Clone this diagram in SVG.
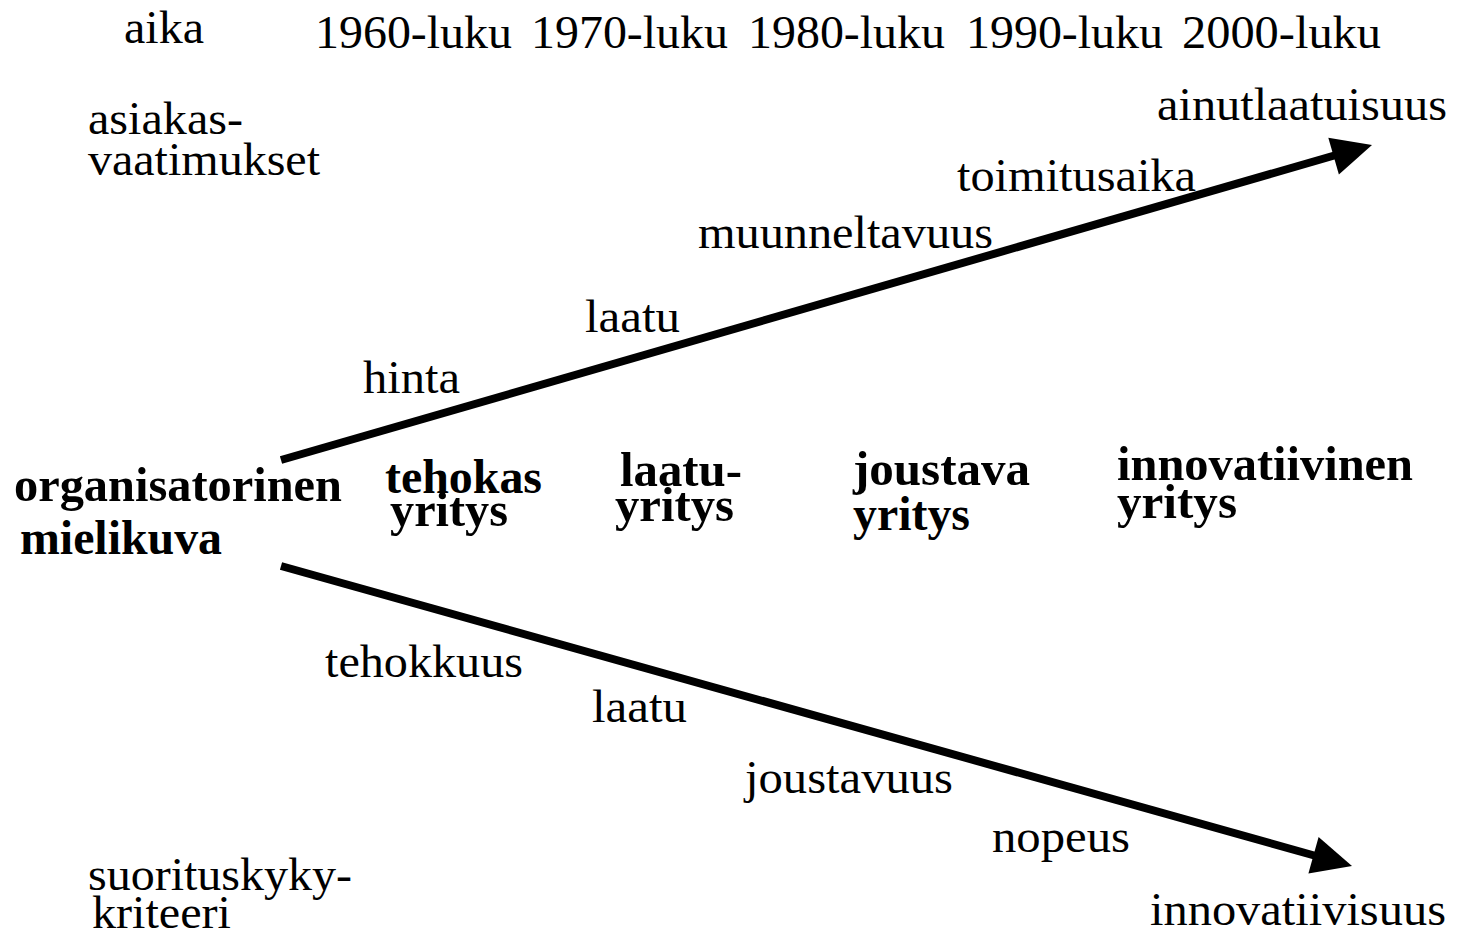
<svg xmlns="http://www.w3.org/2000/svg" width="1465" height="934" viewBox="0 0 1465 934">
<style>
text{font-family:"Liberation Serif","Times New Roman",serif;font-size:46px;fill:#000}
.b{font-weight:bold;font-size:48px}
.ln{stroke:#000;stroke-width:8;fill:none}
.hd{fill:#000}
</style>
<rect width="1465" height="934" fill="#fff"/>
<g id="labels">
<text x="124" y="43" textLength="80" lengthAdjust="spacingAndGlyphs">aika</text>
<text x="315" y="48" textLength="197" lengthAdjust="spacingAndGlyphs">1960-luku</text>
<text x="531" y="48" textLength="197" lengthAdjust="spacingAndGlyphs">1970-luku</text>
<text x="748" y="48" textLength="197" lengthAdjust="spacingAndGlyphs">1980-luku</text>
<text x="966" y="48" textLength="197" lengthAdjust="spacingAndGlyphs">1990-luku</text>
<text x="1182" y="48" textLength="199" lengthAdjust="spacingAndGlyphs">2000-luku</text>
<text x="88" y="134" textLength="155" lengthAdjust="spacingAndGlyphs">asiakas-</text>
<text x="88" y="175" textLength="232" lengthAdjust="spacingAndGlyphs">vaatimukset</text>
<text x="88" y="890" textLength="264" lengthAdjust="spacingAndGlyphs">suorituskyky-</text>
<text x="92" y="928" textLength="139" lengthAdjust="spacingAndGlyphs">kriteeri</text>
</g>
<g id="node-organisatorinen">
<text class="b" x="14" y="501" textLength="328" lengthAdjust="spacingAndGlyphs">organisatorinen</text>
<text class="b" x="20" y="554" textLength="202" lengthAdjust="spacingAndGlyphs">mielikuva</text>
</g>
<g id="node-tehokas">
<text class="b" x="385" y="493" textLength="157" lengthAdjust="spacingAndGlyphs">tehokas</text>
<text class="b" x="390" y="526" textLength="118" lengthAdjust="spacingAndGlyphs">yritys</text>
</g>
<g id="node-laatu">
<text class="b" x="620" y="486" textLength="122" lengthAdjust="spacingAndGlyphs">laatu-</text>
<text class="b" x="615" y="521" textLength="119" lengthAdjust="spacingAndGlyphs">yritys</text>
</g>
<g id="node-joustava">
<text class="b" x="853" y="485" textLength="177" lengthAdjust="spacingAndGlyphs">joustava</text>
<text class="b" x="853" y="530" textLength="117" lengthAdjust="spacingAndGlyphs">yritys</text>
</g>
<g id="node-innovatiivinen">
<text class="b" x="1117" y="480" textLength="296" lengthAdjust="spacingAndGlyphs">innovatiivinen</text>
<text class="b" x="1117" y="518" textLength="120" lengthAdjust="spacingAndGlyphs">yritys</text>
</g>
<g id="connectors">
<line class="ln" x1="281" y1="460" x2="1336" y2="155"/>
<polygon class="hd" points="1372,145 1328.3,137.8 1338.9,174.4"/>
<line class="ln" x1="281" y1="566" x2="1316" y2="856"/>
<polygon class="hd" points="1352,866 1318.6,836.9 1308.4,873.5"/>
</g>
<g id="upper-labels">
<text x="363" y="393" textLength="97" lengthAdjust="spacingAndGlyphs">hinta</text>
<text x="585" y="332" textLength="95" lengthAdjust="spacingAndGlyphs">laatu</text>
<text x="698" y="248" textLength="295" lengthAdjust="spacingAndGlyphs">muunneltavuus</text>
<text x="957" y="191" textLength="239" lengthAdjust="spacingAndGlyphs">toimitusaika</text>
<text x="1157" y="120" textLength="290" lengthAdjust="spacingAndGlyphs">ainutlaatuisuus</text>
</g>
<g id="lower-labels">
<text x="325" y="677" textLength="198" lengthAdjust="spacingAndGlyphs">tehokkuus</text>
<text x="592" y="722" textLength="95" lengthAdjust="spacingAndGlyphs">laatu</text>
<text x="745" y="793" textLength="208" lengthAdjust="spacingAndGlyphs">joustavuus</text>
<text x="992" y="852" textLength="138" lengthAdjust="spacingAndGlyphs">nopeus</text>
<text x="1150" y="925" textLength="296" lengthAdjust="spacingAndGlyphs">innovatiivisuus</text>
</g>
</svg>
